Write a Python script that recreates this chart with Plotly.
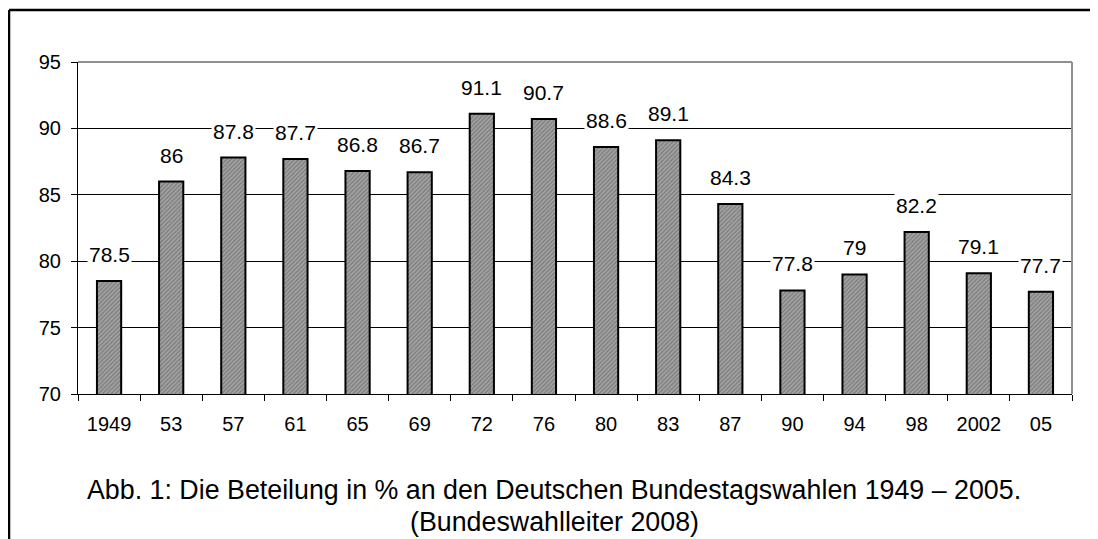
import plotly.graph_objects as go

years = ["1949", "53", "57", "61", "65", "69", "72", "76", "80", "83", "87", "90", "94", "98", "2002", "05"]
turnout = [78.5, 86, 87.8, 87.7, 86.8, 86.7, 91.1, 90.7, 88.6, 89.1, 84.3, 77.8, 79, 82.2, 79.1, 77.7]
value_labels = ["78.5", "86", "87.8", "87.7", "86.8", "86.7", "91.1", "90.7", "88.6", "89.1", "84.3", "77.8", "79", "82.2", "79.1", "77.7"]
y_ticks = [70, 75, 80, 85, 90, 95]
caption_1 = "Abb. 1: Die Beteilung in % an den Deutschen Bundestagswahlen 1949 – 2005."
caption_2 = "(Bundeswahlleiter 2008)"

FONT = "Liberation Sans, Arial, sans-serif"
pos = list(range(len(years)))

fig = go.Figure()
fig.add_trace(go.Bar(
    x=pos, y=turnout,
    width=0.39,
    marker=dict(
        color="#8c8c8c",
        line=dict(color="black", width=2),
        pattern=dict(shape="/", fgcolor="#555555", bgcolor="#a4a4a4", size=3, solidity=0.45),
    ),
    hovertext=years, hoverinfo="text+y",
))

annotations = []
for p, v, lab in zip(pos, turnout, value_labels):
    annotations.append(dict(
        x=p, y=v, xref="x", yref="y", text=lab, showarrow=False,
        yanchor="bottom", yshift=13, bgcolor="white", borderpad=1,
        font=dict(family=FONT, size=21, color="black"),
    ))

annotations.append(dict(
    x=0.479, y=-0.29, xref="paper", yref="paper", text=caption_1, showarrow=False,
    yanchor="middle", xanchor="center", font=dict(family=FONT, size=26.8, color="black"),
))
annotations.append(dict(
    x=0.479, y=-0.385, xref="paper", yref="paper", text=caption_2, showarrow=False,
    yanchor="middle", xanchor="center", font=dict(family=FONT, size=26.8, color="black"),
))

shapes = [
    dict(type="line", xref="paper", yref="paper", x0=0, x1=1, y0=1, y1=1,
         line=dict(color="#909090", width=2)),
    dict(type="line", xref="paper", yref="paper", x0=1, x1=1, y0=0, y1=1,
         line=dict(color="#909090", width=2)),
    dict(type="line", xref="paper", yref="paper", x0=-0.0694, x1=-0.0694, y0=-0.5, y1=1.1566,
         line=dict(color="black", width=2.5)),
    dict(type="line", xref="paper", yref="paper", x0=-0.0694, x1=1.0241, y0=1.1566, y1=1.1566,
         line=dict(color="black", width=2.5)),
    dict(type="line", xref="paper", yref="paper", x0=1.0241, x1=1.0241, y0=-0.5, y1=1.1566,
         line=dict(color="black", width=2)),
]

fig.update_layout(
    width=1090, height=531,
    margin=dict(l=70, r=26, t=54, b=145),
    paper_bgcolor="white", plot_bgcolor="white",
    showlegend=False,
    font=dict(family=FONT, size=20, color="black"),
    annotations=annotations,
    shapes=shapes,
    xaxis=dict(
        range=[-0.5, len(years) - 0.5],
        tickvals=pos, ticktext=years, ticks="",
        minor=dict(tick0=-0.5, dtick=1, ticks="outside", ticklen=6, tickcolor="black", tickwidth=1, showgrid=False),
        showline=True, linecolor="black", linewidth=1,
        showgrid=False, zeroline=False, tickfont=dict(family=FONT, size=20),
        ticklabelstandoff=12,
    ),
    yaxis=dict(
        range=[70, 95], tickvals=y_ticks,
        ticks="outside", ticklen=6, tickcolor="black", tickwidth=1,
        showline=True, linecolor="black", linewidth=1,
        showgrid=True, gridcolor="black", gridwidth=1,
        zeroline=False, tickfont=dict(family=FONT, size=20),
        ticklabelstandoff=6,
    ),
)

fig.write_html("out.html")
